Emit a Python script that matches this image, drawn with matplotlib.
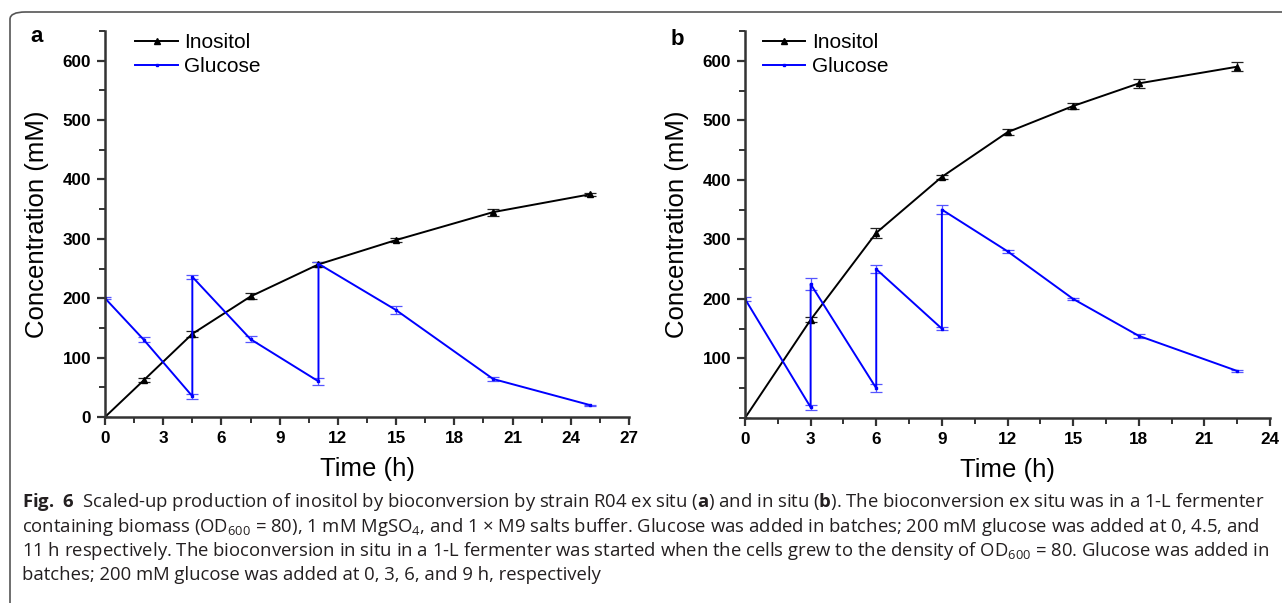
import matplotlib
matplotlib.use("Agg")
import matplotlib.pyplot as plt
from matplotlib.patches import FancyBboxPatch
from matplotlib.lines import Line2D
from matplotlib.ticker import MultipleLocator

# panel a: ex situ
a_time_ino = [0, 2, 4.5, 7.5, 11, 15, 20, 25]
a_ino = [0, 62, 140, 203, 257, 298, 345, 375]
a_ino_err = [0, 3, 5, 5, 4, 4, 6, 3]
a_time_glc = [0, 2, 4.5, 4.5, 7.5, 11, 11, 15, 20, 25]
a_glc = [200, 130, 35, 236, 131, 60, 258, 180, 64, 20]
a_glc_err = [2, 4, 4, 3, 5, 6, 3, 7, 3, 1]

# panel b: in situ
b_time_ino = [0, 3, 6, 9, 12, 15, 18, 22.5]
b_ino = [0, 165, 311, 405, 480, 524, 562, 590]
b_ino_err = [0, 4, 8, 3, 5, 5, 8, 8]
b_time_glc = [0, 3, 3, 6, 6, 9, 9, 12, 15, 18, 22.5]
b_glc = [200, 18, 225, 50, 250, 150, 350, 280, 200, 138, 79]
b_glc_err = [3, 4, 10, 7, 7, 3, 8, 3, 2, 3, 2]

caption = [
    r"$\bf{Fig.\ 6}$  Scaled-up production of inositol by bioconversion by strain R04 ex situ ($\bf{a}$) and in situ ($\bf{b}$). The bioconversion ex situ was in a 1-L fermenter",
    r"containing biomass (OD$_{600}$ = 80), 1 mM MgSO$_4$, and 1 × M9 salts buffer. Glucose was added in batches; 200 mM glucose was added at 0, 4.5, and",
    r"11 h respectively. The bioconversion in situ in a 1-L fermenter was started when the cells grew to the density of OD$_{600}$ = 80. Glucose was added in",
    r"batches; 200 mM glucose was added at 0, 3, 6, and 9 h, respectively",
]

plt.rcParams["font.family"] = "Liberation Sans"
plt.rcParams["mathtext.fontset"] = "custom"
plt.rcParams["mathtext.rm"] = "Open Sans"
plt.rcParams["mathtext.it"] = "Open Sans"
plt.rcParams["mathtext.bf"] = "Open Sans:bold"

W, H = 1282, 603
fig = plt.figure(figsize=(W / 100, H / 100), dpi=100)

frame = FancyBboxPatch((10 / W, -30 / H), 1300 / W, (H - 12 + 30) / H,
                       boxstyle="round,pad=0,rounding_size=0.012",
                       transform=fig.transFigure, fill=False,
                       edgecolor="#555555", lw=1.2)
fig.patches.append(frame)


def panel(rect, t_ino, ino, ino_err, t_glc, glc, glc_err, xmax, letter,
          show_zero, leg_x, letter_y):
    ax = fig.add_axes(rect)
    ax.errorbar(t_ino, ino, yerr=ino_err, color="black", lw=1.4, marker="^",
                ms=5, capsize=4, elinewidth=0.9, capthick=0.9, ecolor="#222222")
    ax.errorbar(t_glc, glc, yerr=glc_err, color="#0000ff", lw=1.4, marker="s",
                ms=2, capsize=4, elinewidth=0.9, capthick=0.9, ecolor="#5555ff")
    ax.set_xlim(0, xmax)
    ax.set_ylim(0, 650)
    ax.xaxis.set_major_locator(MultipleLocator(3))
    ax.xaxis.set_minor_locator(MultipleLocator(1.5))
    ax.yaxis.set_major_locator(MultipleLocator(100))
    ax.yaxis.set_minor_locator(MultipleLocator(50))
    for s in ["top", "right"]:
        ax.spines[s].set_visible(False)
    for s in ["left", "bottom"]:
        ax.spines[s].set_linewidth(1.8)
        ax.spines[s].set_color("#333333")
    ax.tick_params(which="major", length=6, width=1.6, color="#333333",
                   labelsize=12.3, pad=4)
    ax.tick_params(which="minor", length=4, width=1.4, color="#333333")
    if not show_zero:
        ax.set_yticks([100, 200, 300, 400, 500, 600])
    for lab in ax.get_xticklabels() + ax.get_yticklabels():
        lab.set_fontweight("bold")
    ax.set_xlabel("Time (h)", fontsize=18.5, labelpad=8)
    ax.set_ylabel("Concentration (mM)", fontsize=18.5, labelpad=10)
    handles = [Line2D([], [], color="black", lw=1.4, marker="^", ms=4),
               Line2D([], [], color="#0000ff", lw=1.4, marker="s", ms=2)]
    ax.legend(handles, ["Inositol", "Glucose"], loc="upper left",
              bbox_to_anchor=(leg_x, 1.043), frameon=False, fontsize=15,
              handlelength=2.05, handletextpad=0.3, labelspacing=0.25)
    ax.text(-0.142, letter_y, letter, transform=ax.transAxes, fontsize=16,
            fontweight="bold", va="center", ha="left")
    return ax


panel([105 / W, 1 - 417 / H, 524 / W, 386 / H], a_time_ino, a_ino, a_ino_err,
      a_time_glc, a_glc, a_glc_err, 27, "a", True, 0.022, 0.985)
panel([745 / W, 1 - 418 / H, 525 / W, 387 / H], b_time_ino, b_ino, b_ino_err,
      b_time_glc, b_glc, b_glc_err, 24, "b", False, -0.002, 0.978)

texts = []
for i, line in enumerate(caption):
    texts.append(fig.text(22 / W, 1 - (507 + i * 24.5) / H, line, fontsize=10,
                          family="Open Sans", va="baseline", ha="left",
                          color="#231f20"))

# fit first caption line to the frame width
renderer = fig.canvas.get_renderer()
w = texts[0].get_window_extent(renderer).width
scale = (1264 - 22) / w
for t in texts:
    t.set_fontsize(10 * scale)

fig.savefig("out.png", dpi=100)
